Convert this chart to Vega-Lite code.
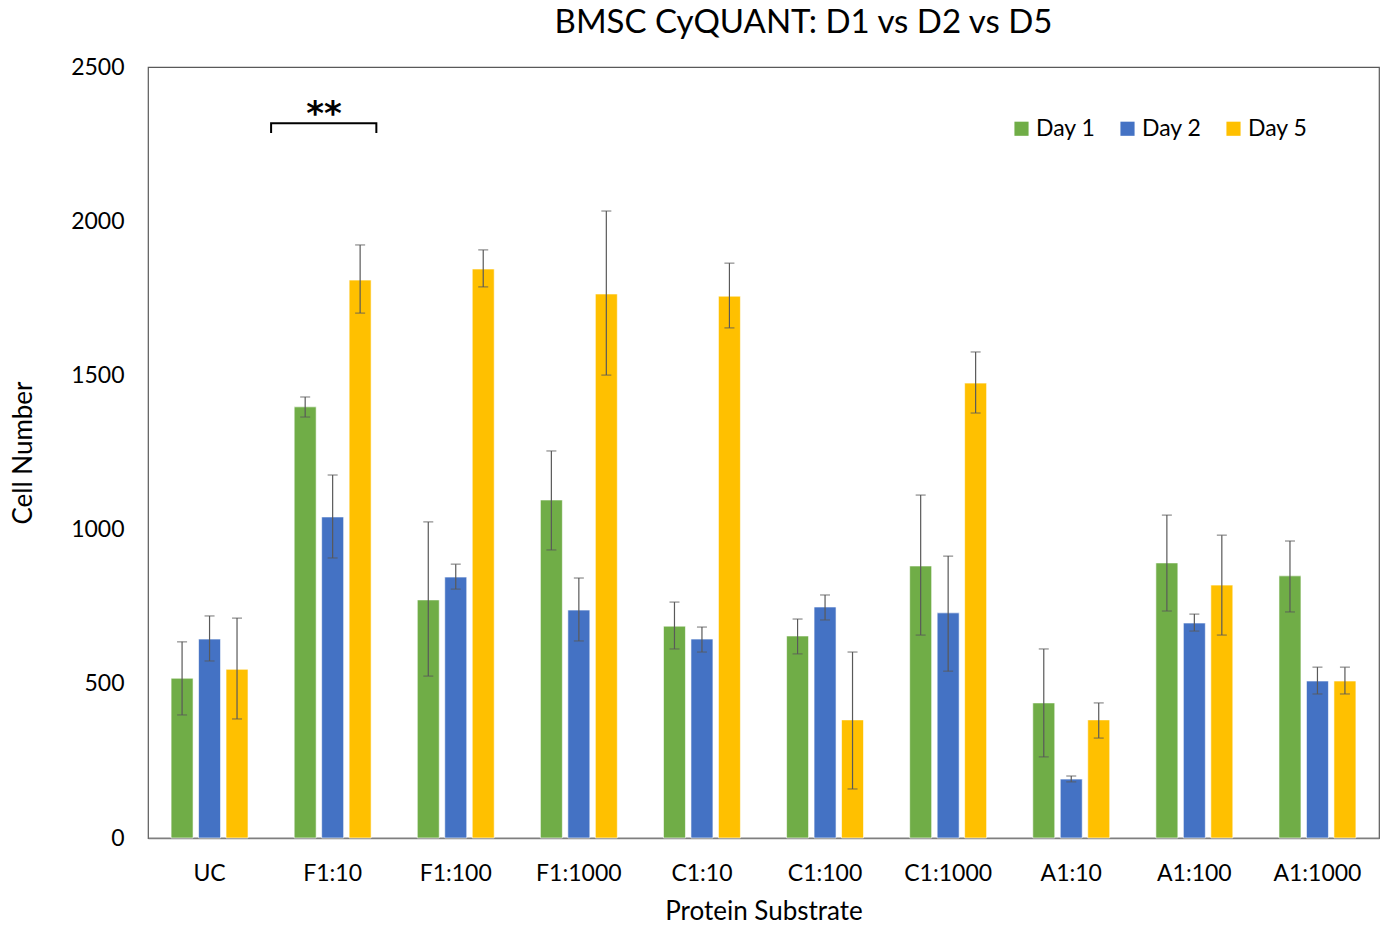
{
  "$schema": "https://vega.github.io/schema/vega-lite/v6.json",
  "width": 1231,
  "height": 771,
  "autosize": {"type": "none"},
  "padding": {"left": 148, "top": 67, "right": 1, "bottom": 90},
  "background": "white",
  "config": {
    "font": "Lato",
    "view": {"stroke": "#595959", "strokeWidth": 1.2},
    "axis": {"grid": false, "ticks": false, "labelFont": "Lato", "titleFont": "Lato", "labelColor": "#000000", "titleColor": "#000000", "titleFontWeight": "normal"}
  },
  "title": {"text": "BMSC CyQUANT: D1 vs D2 vs D5", "fontSize": 33, "font": "Lato", "fontWeight": "normal", "color": "#000000", "anchor": "middle", "dx": 40, "offset": 16},
  "resolve": {"scale": {"x": "independent"}},
  "layer": [
    {
      "data": {"values": [
        {"sub": "UC", "day": "Day 1", "mean": 518, "lo": 399, "hi": 636},
        {"sub": "UC", "day": "Day 2", "mean": 645, "lo": 574, "hi": 720},
        {"sub": "UC", "day": "Day 5", "mean": 547, "lo": 386, "hi": 713},
        {"sub": "F1:10", "day": "Day 1", "mean": 1398, "lo": 1365, "hi": 1430},
        {"sub": "F1:10", "day": "Day 2", "mean": 1041, "lo": 908, "hi": 1177},
        {"sub": "F1:10", "day": "Day 5", "mean": 1809, "lo": 1702, "hi": 1923},
        {"sub": "F1:100", "day": "Day 1", "mean": 772, "lo": 525, "hi": 1025},
        {"sub": "F1:100", "day": "Day 2", "mean": 846, "lo": 807, "hi": 888},
        {"sub": "F1:100", "day": "Day 5", "mean": 1845, "lo": 1787, "hi": 1907},
        {"sub": "F1:1000", "day": "Day 1", "mean": 1096, "lo": 934, "hi": 1255},
        {"sub": "F1:1000", "day": "Day 2", "mean": 739, "lo": 639, "hi": 843},
        {"sub": "F1:1000", "day": "Day 5", "mean": 1764, "lo": 1501, "hi": 2033},
        {"sub": "C1:10", "day": "Day 1", "mean": 687, "lo": 613, "hi": 765},
        {"sub": "C1:10", "day": "Day 2", "mean": 645, "lo": 603, "hi": 684},
        {"sub": "C1:10", "day": "Day 5", "mean": 1757, "lo": 1654, "hi": 1864},
        {"sub": "C1:100", "day": "Day 1", "mean": 655, "lo": 597, "hi": 710},
        {"sub": "C1:100", "day": "Day 2", "mean": 749, "lo": 707, "hi": 788},
        {"sub": "C1:100", "day": "Day 5", "mean": 383, "lo": 159, "hi": 603},
        {"sub": "C1:1000", "day": "Day 1", "mean": 882, "lo": 658, "hi": 1112},
        {"sub": "C1:1000", "day": "Day 2", "mean": 730, "lo": 541, "hi": 914},
        {"sub": "C1:1000", "day": "Day 5", "mean": 1475, "lo": 1378, "hi": 1576},
        {"sub": "A1:10", "day": "Day 1", "mean": 438, "lo": 263, "hi": 613},
        {"sub": "A1:10", "day": "Day 2", "mean": 191, "lo": 182, "hi": 201},
        {"sub": "A1:10", "day": "Day 5", "mean": 383, "lo": 324, "hi": 438},
        {"sub": "A1:100", "day": "Day 1", "mean": 892, "lo": 736, "hi": 1047},
        {"sub": "A1:100", "day": "Day 2", "mean": 697, "lo": 671, "hi": 726},
        {"sub": "A1:100", "day": "Day 5", "mean": 820, "lo": 658, "hi": 982},
        {"sub": "A1:1000", "day": "Day 1", "mean": 850, "lo": 733, "hi": 963},
        {"sub": "A1:1000", "day": "Day 2", "mean": 509, "lo": 467, "hi": 554},
        {"sub": "A1:1000", "day": "Day 5", "mean": 509, "lo": 467, "hi": 554}
      ]},
      "encoding": {
        "x": {"field": "sub", "type": "nominal", "sort": null,
          "scale": {"paddingInner": 0.375, "paddingOuter": 0.1875},
          "axis": {"title": "Protein Substrate", "labelAngle": 0, "labelFontSize": 23, "titleFontSize": 26, "labelPadding": 24, "titlePadding": 13, "domainColor": "#7f7f7f", "domainWidth": 1.5}},
        "xOffset": {"field": "day", "type": "nominal", "scale": {"paddingInner": 0.2, "paddingOuter": 0}}
      },
      "layer": [
        {
          "mark": {"type": "bar", "stroke": "#ffffff", "strokeOpacity": 0.6, "strokeWidth": 1},
          "encoding": {
            "y": {"field": "mean", "type": "quantitative",
              "scale": {"domain": [0, 2500], "nice": false},
              "axis": {"title": "Cell Number", "values": [0, 500, 1000, 1500, 2000, 2500], "format": "d", "labelFontSize": 23, "titleFontSize": 26, "labelPadding": 24, "titlePadding": 34, "domain": false}},
            "color": {"field": "day", "type": "nominal",
              "scale": {"domain": ["Day 1", "Day 2", "Day 5"], "range": ["#70AD47", "#4472C4", "#FFC000"]},
              "legend": {"title": null, "orient": "none", "legendX": 862, "legendY": 50, "direction": "horizontal", "symbolType": "square", "symbolSize": 200, "symbolStrokeWidth": 0, "labelFontSize": 23, "labelColor": "#000000", "columnPadding": 20, "labelOffset": 3}}
          }
        },
        {
          "mark": {"type": "rule", "color": "#595959", "strokeWidth": 1.2},
          "encoding": {
            "y": {"field": "lo", "type": "quantitative"},
            "y2": {"field": "hi"}
          }
        },
        {
          "mark": {"type": "tick", "color": "#595959", "thickness": 1.2, "size": 10, "orient": "horizontal"},
          "encoding": {"y": {"field": "lo", "type": "quantitative"}}
        },
        {
          "mark": {"type": "tick", "color": "#595959", "thickness": 1.2, "size": 10, "orient": "horizontal"},
          "encoding": {"y": {"field": "hi", "type": "quantitative"}}
        }
      ]
    },
    {
      "data": {"values": [
        {"px": 1.0, "py": 2286, "ord": 1},
        {"px": 1.0, "py": 2318, "ord": 2},
        {"px": 1.855, "py": 2318, "ord": 3},
        {"px": 1.855, "py": 2286, "ord": 4}
      ]},
      "mark": {"type": "line", "color": "#000000", "strokeWidth": 2},
      "encoding": {
        "x": {"field": "px", "type": "quantitative", "scale": {"domain": [0, 10], "nice": false, "zero": false}, "axis": null},
        "y": {"field": "py", "type": "quantitative"},
        "order": {"field": "ord"}
      }
    },
    {
      "data": {"values": [{"px": 1.43, "py": 2312, "t": "**"}]},
      "mark": {"type": "text", "fontSize": 34, "fontWeight": "bold", "color": "#000000", "baseline": "alphabetic", "font": "DejaVu Sans"},
      "encoding": {
        "x": {"field": "px", "type": "quantitative", "scale": {"domain": [0, 10], "nice": false, "zero": false}, "axis": null},
        "y": {"field": "py", "type": "quantitative"},
        "text": {"field": "t"}
      }
    }
  ]
}
